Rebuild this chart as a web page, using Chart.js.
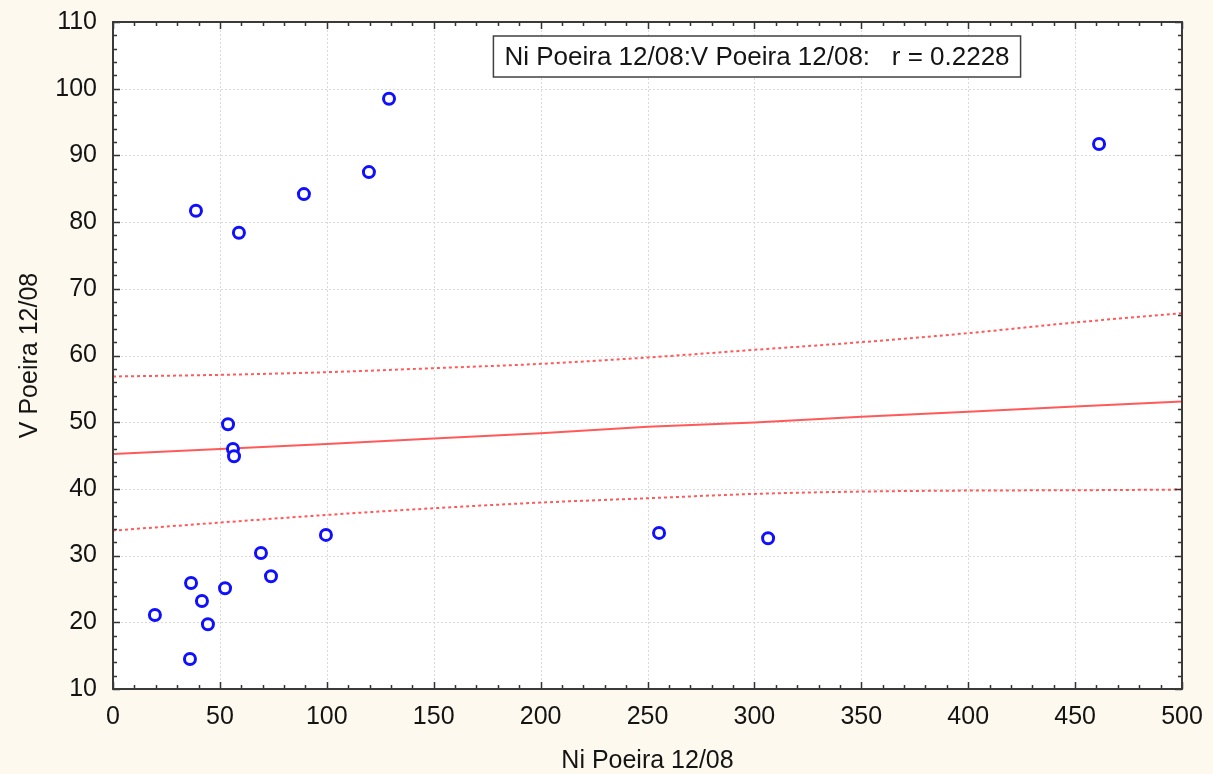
<!DOCTYPE html>
<html>
<head>
<meta charset="utf-8">
<script src="https://cdn.jsdelivr.net/npm/chart.js@4.4.0/dist/chart.umd.min.js"></script>
<style>
  body { margin: 0; background: #fdf9ef; }
  #wrap { width: 1213px; height: 774px; }
</style>
</head>
<body>
<div id="wrap"><canvas id="scatterChart" width="1213" height="774"></canvas></div>
<script>
// Ni vs V (Poeira 12/08)
const niValues = [19.6, 36.5, 36.0, 38.8, 41.6, 44.4, 52.4, 53.8, 56.1, 56.6, 58.9, 69.2, 73.9, 89.3, 99.6, 119.7, 129.1, 255.4, 306.4, 461.2];
const vValues  = [21.1, 25.9, 14.5, 81.7, 23.2, 19.7, 25.1, 49.7, 46.0, 44.9, 78.4, 30.4, 26.9, 84.2, 33.1, 87.5, 98.5, 33.4, 32.6, 91.7];

// regression line + 95% band, sampled every 50 on x
const fitX     = [0, 50, 100, 150, 200, 250, 300, 350, 400, 450, 500];
const fitLine  = [45.25, 46.0, 46.75, 47.55, 48.35, 49.3, 49.95, 50.8, 51.55, 52.35, 53.1];
const fitUpper = [56.85, 57.1, 57.5, 58.1, 58.75, 59.7, 60.85, 62.0, 63.35, 64.95, 66.35];
const fitLower = [33.75, 34.95, 36.1, 37.1, 37.95, 38.6, 39.25, 39.6, 39.75, 39.8, 39.9];

const xTicks = [0, 50, 100, 150, 200, 250, 300, 350, 400, 450, 500];
const yTicks = [10, 20, 30, 40, 50, 60, 70, 80, 90, 100, 110];
const corrLabel = "Ni Poeira 12/08:V Poeira 12/08:   r = 0.2228";

const pts = niValues.map((x, i) => ({ x: x, y: vValues[i] }));
const toXY = arr => fitX.map((x, i) => ({ x: x, y: arr[i] }));

const FONT = "'Liberation Sans', Arial, sans-serif";
const txt = '#141414';

// white plot area, dotted grid, inward ticks, frame and the r box
const framePlugin = {
    id: 'frame',
    beforeDatasetsDraw(chart) {
        const { ctx, chartArea: a, scales } = chart;
        ctx.save();
        ctx.fillStyle = '#ffffff';
        ctx.fillRect(a.left, a.top, a.right - a.left, a.bottom - a.top);
        ctx.strokeStyle = '#d9d9d9';
        ctx.lineWidth = 1;
        ctx.setLineDash([2, 2]);
        xTicks.forEach(v => {
            const px = Math.round(scales.x.getPixelForValue(v)) + 0.5;
            ctx.beginPath(); ctx.moveTo(px, a.top); ctx.lineTo(px, a.bottom); ctx.stroke();
        });
        yTicks.forEach(v => {
            const py = Math.round(scales.y.getPixelForValue(v)) + 0.5;
            ctx.beginPath(); ctx.moveTo(a.left, py); ctx.lineTo(a.right, py); ctx.stroke();
        });
        ctx.restore();
    },
    afterDatasetsDraw(chart) {
        const { ctx, chartArea: a, scales } = chart;
        ctx.save();
        ctx.setLineDash([]);
        ctx.strokeStyle = '#333333';
        ctx.lineWidth = 1.5;
        // x ticks every 10, major every 50
        for (let v = 0; v <= 500; v += 10) {
            const px = Math.round(scales.x.getPixelForValue(v)) + 0.5;
            const len = v % 50 === 0 ? 7 : 4;
            ctx.beginPath();
            ctx.moveTo(px, a.bottom); ctx.lineTo(px, a.bottom - len);
            ctx.moveTo(px, a.top); ctx.lineTo(px, a.top + len);
            ctx.stroke();
        }
        // y ticks every 2, major every 10
        for (let v = 10; v <= 110; v += 2) {
            const py = Math.round(scales.y.getPixelForValue(v)) + 0.5;
            const len = v % 10 === 0 ? 7 : 4;
            ctx.beginPath();
            ctx.moveTo(a.left, py); ctx.lineTo(a.left + len, py);
            ctx.moveTo(a.right, py); ctx.lineTo(a.right - len, py);
            ctx.stroke();
        }
        ctx.lineWidth = 2;
        ctx.strokeStyle = '#3a3a3a';
        ctx.strokeRect(a.left, a.top, a.right - a.left, a.bottom - a.top);

        // correlation label box
        ctx.font = '26px ' + FONT;
        const w = ctx.measureText(corrLabel).width;
        const cx = a.left + 644;
        const bx = cx - w / 2 - 11, by = a.top + 14, bw = w + 22, bh = 41;
        ctx.fillStyle = '#ffffff';
        ctx.fillRect(bx, by, bw, bh);
        ctx.lineWidth = 1.5;
        ctx.strokeStyle = '#404040';
        ctx.strokeRect(bx, by, bw, bh);
        ctx.fillStyle = txt;
        ctx.textAlign = 'center';
        ctx.textBaseline = 'middle';
        ctx.fillText(corrLabel, cx, by + bh / 2 + 1);
        ctx.restore();
    }
};

const ctx = document.getElementById('scatterChart').getContext('2d');
const myChart = new Chart(ctx, {
    type: 'scatter',
    data: {
        datasets: [
            {
                label: 'V vs Ni',
                data: pts,
                pointStyle: 'circle',
                pointRadius: 5.5,
                pointBorderWidth: 3,
                borderColor: '#1010ff',
                backgroundColor: '#ffffff',
                order: 0
            },
            {
                label: 'fit',
                data: toXY(fitLine),
                showLine: true,
                pointRadius: 0,
                borderColor: '#ff5a5a',
                borderWidth: 2,
                order: 1
            },
            {
                label: 'upper',
                data: toXY(fitUpper),
                showLine: true,
                pointRadius: 0,
                borderColor: '#ff5a5a',
                borderWidth: 2,
                borderDash: [3, 3],
                cubicInterpolationMode: 'monotone',
                order: 2
            },
            {
                label: 'lower',
                data: toXY(fitLower),
                showLine: true,
                pointRadius: 0,
                borderColor: '#ff5a5a',
                borderWidth: 2,
                borderDash: [3, 3],
                cubicInterpolationMode: 'monotone',
                order: 3
            }
        ]
    },
    options: {
        responsive: false,
        animation: false,
        layout: { padding: { top: 22, right: 31, left: 0, bottom: 0 } },
        plugins: {
            legend: { display: false },
            tooltip: { enabled: false }
        },
        scales: {
            x: {
                type: 'linear',
                min: 0,
                max: 500,
                afterFit: s => { s.height = 85; s.paddingLeft = 0; s.paddingRight = 0; },
                afterBuildTicks: s => { s.ticks = xTicks.map(v => ({ value: v })); },
                grid: { display: false, drawTicks: false },
                border: { display: false },
                ticks: { color: txt, font: { family: FONT, size: 25 }, padding: 13, maxRotation: 0 },
                title: {
                    display: true,
                    text: 'Ni Poeira 12/08',
                    color: txt,
                    font: { family: FONT, size: 25, lineHeight: 1 },
                    padding: { top: 0, bottom: 0 }
                }
            },
            y: {
                type: 'linear',
                min: 10,
                max: 110,
                afterFit: s => { s.width = 113; s.paddingTop = 0; s.paddingBottom = 0; },
                afterBuildTicks: s => { s.ticks = yTicks.map(v => ({ value: v })); },
                grid: { display: false, drawTicks: false },
                border: { display: false },
                ticks: { color: txt, font: { family: FONT, size: 25 }, padding: 16 },
                title: {
                    display: true,
                    text: 'V Poeira 12/08',
                    color: txt,
                    font: { family: FONT, size: 25 },
                    padding: { top: 15, bottom: 0 }
                }
            }
        }
    },
    plugins: [framePlugin]
});
</script>
</body>
</html>
